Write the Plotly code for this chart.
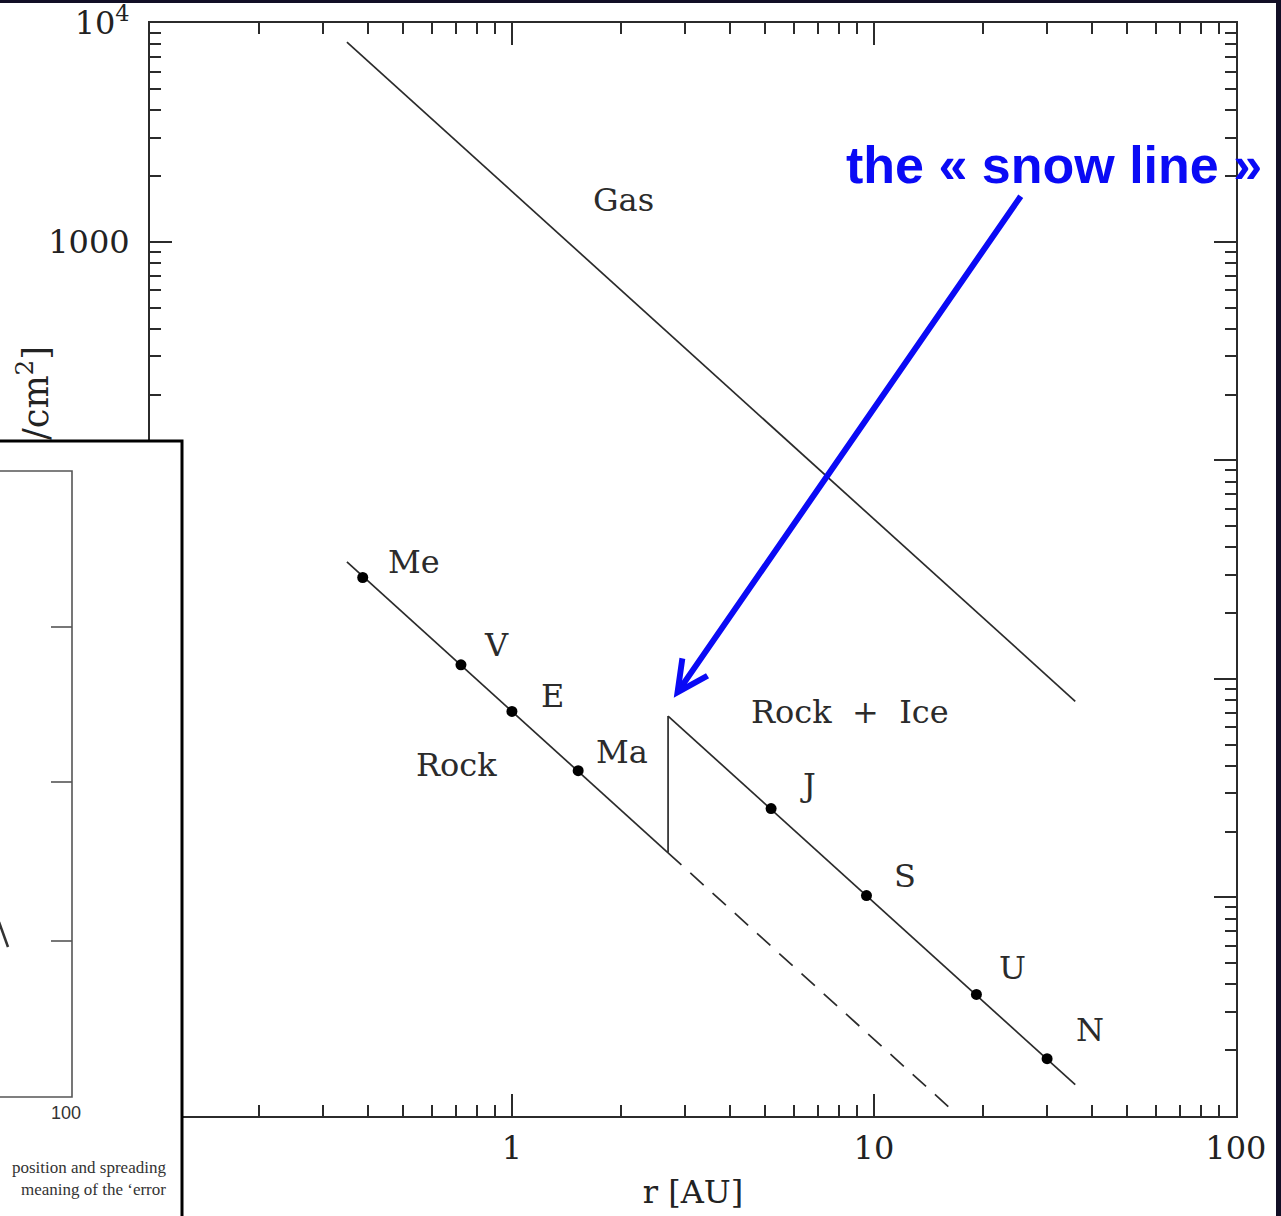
import math
import plotly.graph_objects as go

# Minimum-mass solar nebula surface densities (g/cm^2) versus heliocentric distance (AU)
gas_r = [0.35, 36.0]
gas_sigma = [8200.0, 7.9]

rock_r = [0.35, 2.7]
rock_sigma = [34.3, 1.60]

snow_step_r = [2.7, 2.7]
snow_step_sigma = [1.60, 6.76]

ice_r = [2.7, 36.0]
ice_sigma = [6.76, 0.139]

rock_ext_r = [2.7, 16.4]
rock_ext_sigma = [1.60, 0.107]

planet_names = ["Me", "V", "E", "Ma", "J", "S", "U", "N"]
planet_r = [0.387, 0.723, 1.0, 1.524, 5.2, 9.54, 19.2, 30.1]
planet_sigma = [29.1, 11.6, 7.1, 3.8, 2.55, 1.02, 0.36, 0.183]

x_tick_vals = [0.1, 1, 10, 100]
x_tick_text = ["0.1", "1", "10", "100"]
y_tick_vals = [0.1, 1, 10, 100, 1000, 10000]
y_tick_text = ["0.1", "1", "10", "100", "1000", "10<sup>4</sup>"]

W, H = 1281, 1216
L, R, T, B = 150, 1236, 23, 1116

def px(x):
    return (x - L) / (R - L)

def py(y):
    return 1 - (y - T) / (B - T)

SERIF = "DejaVu Serif"
INK = "#2b2b2b"
BLUE = "#0a0af5"

fig = go.Figure()

line_style = dict(color=INK, width=1.7)
fig.add_trace(go.Scatter(x=gas_r, y=gas_sigma, mode="lines", line=line_style, showlegend=False))
fig.add_trace(go.Scatter(x=rock_r, y=rock_sigma, mode="lines", line=line_style, showlegend=False))
fig.add_trace(go.Scatter(x=snow_step_r, y=snow_step_sigma, mode="lines", line=line_style, showlegend=False))
fig.add_trace(go.Scatter(x=ice_r, y=ice_sigma, mode="lines", line=line_style, showlegend=False))
fig.add_trace(go.Scatter(x=rock_ext_r, y=rock_ext_sigma, mode="lines",
                         line=dict(color=INK, width=1.7, dash="18px,12px"), showlegend=False))
fig.add_trace(go.Scatter(x=planet_r, y=planet_sigma, mode="markers",
                         marker=dict(color="black", size=11), showlegend=False))

# Text labels (positions in log10 units, as required by log axes)
labels = [
    ("Gas", 2.03, 1550),
    ("Me", 0.536, 34.2),
    ("V", 0.909, 14.3),
    ("E", 1.297, 8.34),
    ("Ma", 2.01, 4.62),
    ("Rock", 0.704, 4.04),
    ("Rock  +  Ice", 8.59, 7.05),
    ("J", 6.57, 3.27),
    ("S", 12.2, 1.25),
    ("U", 24.2, 0.475),
    ("N", 39.5, 0.247),
]
for txt, xr, ys in labels:
    fig.add_annotation(x=math.log10(xr), y=math.log10(ys), xref="x", yref="y", text=txt,
                       xanchor="center", yanchor="middle",
                       showarrow=False, font=dict(family=SERIF, size=32, color=INK))

# Snow-line callout: caption and arrow pointing at the ice step
fig.add_annotation(xref="paper", yref="paper", x=px(1054), y=py(165),
                   xanchor="center", yanchor="middle",
                   text="<b>the « snow line »</b>", showarrow=False,
                   font=dict(family="Liberation Sans", size=52, color=BLUE))
fig.add_annotation(x=math.log10(2.8), y=math.log10(8.2), xref="x", yref="y",
                   text="", showarrow=True,
                   ax=348, ay=-503, arrowhead=5, arrowwidth=6, arrowsize=1,
                   arrowcolor=BLUE)

axis_common = dict(
    type="log", showline=True, linecolor=INK, linewidth=2, mirror="allticks",
    ticks="inside", ticklen=22, tickwidth=2, tickcolor=INK,
    showgrid=False, zeroline=False, ticklabeloverflow="allow", automargin=False,
    tickfont=dict(family=SERIF, size=32, color="#222"),
)
minor_vals = [m * 10 ** e for e in range(-1, 4) for m in range(2, 10)]

fig.update_xaxes(**axis_common, range=[-1, 2.0005], tickmode="array",
                 tickvals=x_tick_vals, ticktext=x_tick_text, ticklabelstandoff=3,
                 minor=dict(ticks="inside", ticklen=11, tickwidth=2, tickcolor=INK,
                            tickmode="array", tickvals=minor_vals, showgrid=False),
                 title=dict(text="r [AU]", font=dict(family=SERIF, size=32, color="#222"),
                            standoff=14))
fig.update_yaxes(**axis_common, range=[-1, 4.001], tickmode="array",
                 tickvals=y_tick_vals, ticktext=y_tick_text, ticklabelstandoff=12,
                 minor=dict(ticks="inside", ticklen=11, tickwidth=2, tickcolor=INK,
                            tickmode="array", tickvals=minor_vals, showgrid=False))

shapes = []
# white page over the dark slide background
shapes.append(dict(type="rect", xref="paper", yref="paper", layer="below",
                   x0=px(0), x1=px(1276), y0=py(3), y1=py(1230),
                   fillcolor="white", line=dict(width=0)))
# inset panel overlapping the lower-left corner
shapes.append(dict(type="rect", xref="paper", yref="paper", layer="above",
                   x0=px(-20), x1=px(182), y0=py(441), y1=py(1240),
                   fillcolor="white", line=dict(color="black", width=3)))
shapes.append(dict(type="path", xref="paper", yref="paper", layer="above",
                   path=f"M {px(-5)} {py(471)} L {px(72)} {py(471)} L {px(72)} {py(1097)} L {px(-5)} {py(1097)}",
                   line=dict(color="#555", width=1.6)))
for ty in [627, 782, 941]:
    shapes.append(dict(type="line", xref="paper", yref="paper", layer="above",
                       x0=px(51), x1=px(72), y0=py(ty), y1=py(ty),
                       line=dict(color="#555", width=1.6)))
shapes.append(dict(type="line", xref="paper", yref="paper", layer="above",
                   x0=px(-1), x1=px(8), y0=py(922), y1=py(947),
                   line=dict(color="#333", width=2.5)))
fig.update_layout(shapes=shapes)

# inset panel text
fig.add_annotation(xref="paper", yref="paper", x=px(66), y=py(1113), xanchor="center",
                   yanchor="middle", text="100", showarrow=False,
                   font=dict(family="Liberation Sans", size=18, color="#333"))
fig.add_annotation(xref="paper", yref="paper", x=px(168), y=py(1178), xanchor="right",
                   yanchor="middle", align="right",
                   text="position and spreading<br>meaning of the ‘error", showarrow=False,
                   font=dict(family="Liberation Serif", size=17, color="#333"))

# y-axis title fragment visible above the inset panel
fig.add_annotation(xref="paper", yref="paper", x=px(33), y=py(442), xanchor="center",
                   yanchor="bottom", text="/cm<sup>2</sup>]", textangle=-90, showarrow=False,
                   font=dict(family=SERIF, size=35, color="#222"))

fig.update_layout(
    width=W, height=H, autosize=False,
    margin=dict(l=L, r=W - R, t=T, b=H - B, pad=0, autoexpand=False),
    paper_bgcolor="#120f26", plot_bgcolor="white",
    showlegend=False,
)

fig.write_html("out.html")
